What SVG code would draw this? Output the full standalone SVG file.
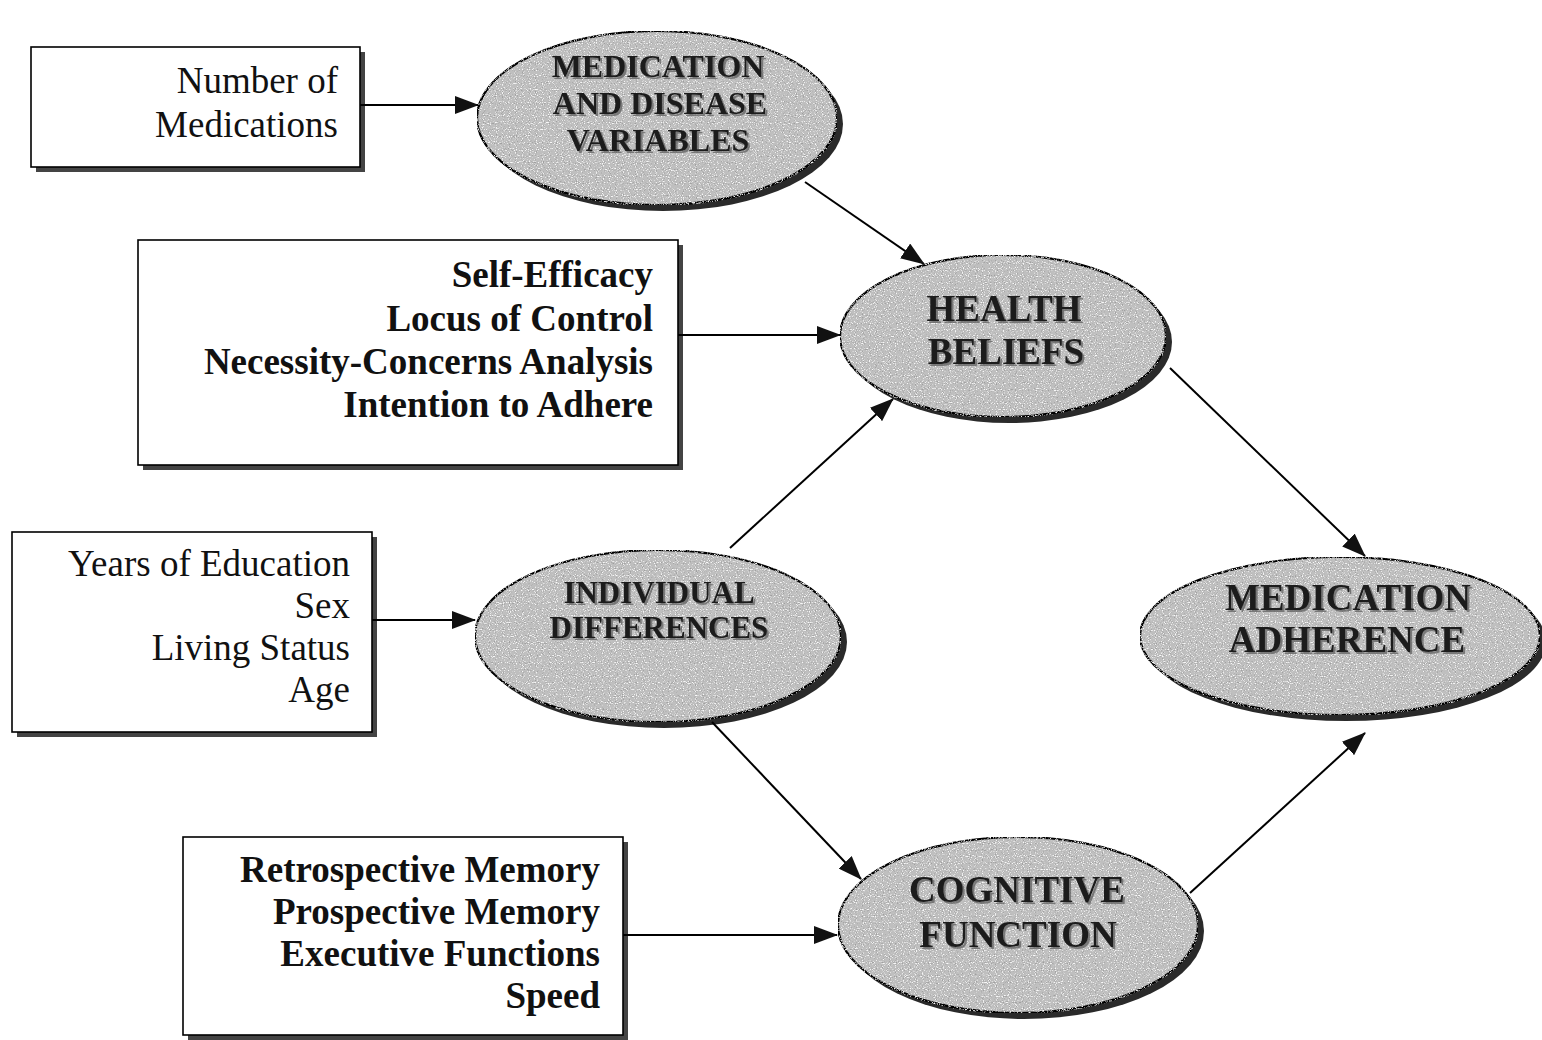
<svg xmlns="http://www.w3.org/2000/svg" width="1542" height="1040" viewBox="0 0 1542 1040">
  <style>
    .box { fill: #ffffff; stroke: #000; stroke-width: 1.6; }
    .boxshadow { fill: #444; }
    .ell { fill: #bfbfbf; stroke: #000; stroke-width: 2.2; filter: url(#speckle); }
    .ellshadow { fill: #2a2a2a; }
    .btxt { font-family: "Liberation Serif", "Times New Roman", serif; font-size: 37px; fill: #111; text-anchor: end; }
    .bold { font-weight: bold; }
    .etxt { font-family: "Liberation Serif", "Times New Roman", serif; font-weight: bold; fill: #1a1a1a; text-anchor: middle; filter: url(#emboss); }
    .conn { stroke: #000; stroke-width: 2; fill: none; marker-end: url(#arrow); }
  </style>
  <defs>
    <marker id="arrow" viewBox="0 0 24 18" refX="23" refY="9" markerWidth="24" markerHeight="18" markerUnits="userSpaceOnUse" orient="auto">
      <path d="M0,0 L24,9 L0,18 z" fill="#111"/>
    </marker>
    <filter id="speckle" x="0" y="0" width="1" height="1">
      <feTurbulence type="fractalNoise" baseFrequency="0.85" numOctaves="1" seed="7" result="noise"/>
      <feColorMatrix in="noise" type="matrix" values="0 0 0 0 0.35  0 0 0 0 0.35  0 0 0 0 0.35  6 0 0 0 -3.4" result="dark"/>
      <feColorMatrix in="noise" type="matrix" values="0 0 0 0 0.95  0 0 0 0 0.95  0 0 0 0 0.95  -6 0 0 0 2.6" result="light"/>
      <feMerge result="dots">
        <feMergeNode in="dark"/>
        <feMergeNode in="light"/>
      </feMerge>
      <feComposite in="dots" in2="SourceGraphic" operator="in" result="dotsIn"/>
      <feMerge>
        <feMergeNode in="SourceGraphic"/>
        <feMergeNode in="dotsIn"/>
      </feMerge>
    </filter>
    <filter id="emboss" x="-5%" y="-20%" width="110%" height="140%">
      <feDropShadow dx="2" dy="2" stdDeviation="0.4" flood-color="#666" flood-opacity="0.8"/>
    </filter>
  </defs>

  <!-- Box nodes -->
  <g id="box-number-of-medications">
    <rect class="boxshadow" x="36" y="52" width="329" height="120"/>
    <rect class="box" x="31" y="47" width="329" height="120"/>
    <text class="btxt" x="338" y="93">Number of</text>
    <text class="btxt" x="338" y="137">Medications</text>
  </g>

  <g id="box-health-beliefs-measures">
    <rect class="boxshadow" x="143" y="245" width="540" height="225"/>
    <rect class="box" x="138" y="240" width="540" height="225"/>
    <text class="btxt bold" x="653" y="287">Self-Efficacy</text>
    <text class="btxt bold" x="653" y="331">Locus of Control</text>
    <text class="btxt bold" x="653" y="374">Necessity-Concerns Analysis</text>
    <text class="btxt bold" x="653" y="417">Intention to Adhere</text>
  </g>

  <g id="box-individual-measures">
    <rect class="boxshadow" x="17" y="537" width="360" height="200"/>
    <rect class="box" x="12" y="532" width="360" height="200"/>
    <text class="btxt" x="350" y="576">Years of Education</text>
    <text class="btxt" x="350" y="618">Sex</text>
    <text class="btxt" x="350" y="660">Living Status</text>
    <text class="btxt" x="350" y="702">Age</text>
  </g>

  <g id="box-cognitive-measures">
    <rect class="boxshadow" x="188" y="842" width="440" height="198"/>
    <rect class="box" x="183" y="837" width="440" height="198"/>
    <text class="btxt bold" x="600" y="882">Retrospective Memory</text>
    <text class="btxt bold" x="600" y="924">Prospective Memory</text>
    <text class="btxt bold" x="600" y="966">Executive Functions</text>
    <text class="btxt bold" x="600" y="1008">Speed</text>
  </g>

  <!-- Ellipse nodes -->
  <g id="node-medication-disease">
    <ellipse class="ellshadow" cx="663" cy="124" rx="180" ry="87"/>
    <ellipse class="ell" cx="657" cy="118" rx="180" ry="87"/>
    <text class="etxt" x="658" y="77" font-size="32">MEDICATION</text>
    <text class="etxt" x="660" y="114" font-size="32">AND DISEASE</text>
    <text class="etxt" x="658" y="151" font-size="32">VARIABLES</text>
  </g>

  <g id="node-health-beliefs">
    <ellipse class="ellshadow" cx="1009" cy="342" rx="163" ry="81"/>
    <ellipse class="ell" cx="1003" cy="336" rx="163" ry="81"/>
    <text class="etxt" x="1004" y="321" font-size="37">HEALTH</text>
    <text class="etxt" x="1006" y="364" font-size="37">BELIEFS</text>
  </g>

  <g id="node-individual-differences">
    <ellipse class="ellshadow" cx="664" cy="642" rx="183" ry="86"/>
    <ellipse class="ell" cx="658" cy="636" rx="183" ry="86"/>
    <text class="etxt" x="659" y="603" font-size="31">INDIVIDUAL</text>
    <text class="etxt" x="659" y="638" font-size="31">DIFFERENCES</text>
  </g>

  <g id="node-cognitive-function">
    <ellipse class="ellshadow" cx="1024" cy="931" rx="180" ry="88"/>
    <ellipse class="ell" cx="1018" cy="925" rx="180" ry="88"/>
    <text class="etxt" x="1017" y="902" font-size="37">COGNITIVE</text>
    <text class="etxt" x="1018" y="947" font-size="37">FUNCTION</text>
  </g>

  <g id="node-medication-adherence">
    <ellipse class="ellshadow" cx="1346" cy="642" rx="200" ry="79"/>
    <ellipse class="ell" cx="1340" cy="636" rx="200" ry="79"/>
    <text class="etxt" x="1348" y="610" font-size="37">MEDICATION</text>
    <text class="etxt" x="1347" y="652" font-size="37">ADHERENCE</text>
  </g>

  <!-- Connectors -->
  <g id="connectors">
    <line class="conn" x1="360" y1="105" x2="478" y2="105"/>
    <line class="conn" x1="678" y1="335" x2="840" y2="335"/>
    <line class="conn" x1="372" y1="620" x2="475" y2="620"/>
    <line class="conn" x1="623" y1="935" x2="837" y2="935"/>
    <line class="conn" x1="805" y1="182" x2="924" y2="264"/>
    <line class="conn" x1="730" y1="548" x2="893" y2="399"/>
    <line class="conn" x1="712" y1="722" x2="861" y2="879"/>
    <line class="conn" x1="1170" y1="368" x2="1365" y2="556"/>
    <line class="conn" x1="1190" y1="893" x2="1365" y2="733"/>
  </g>
</svg>
